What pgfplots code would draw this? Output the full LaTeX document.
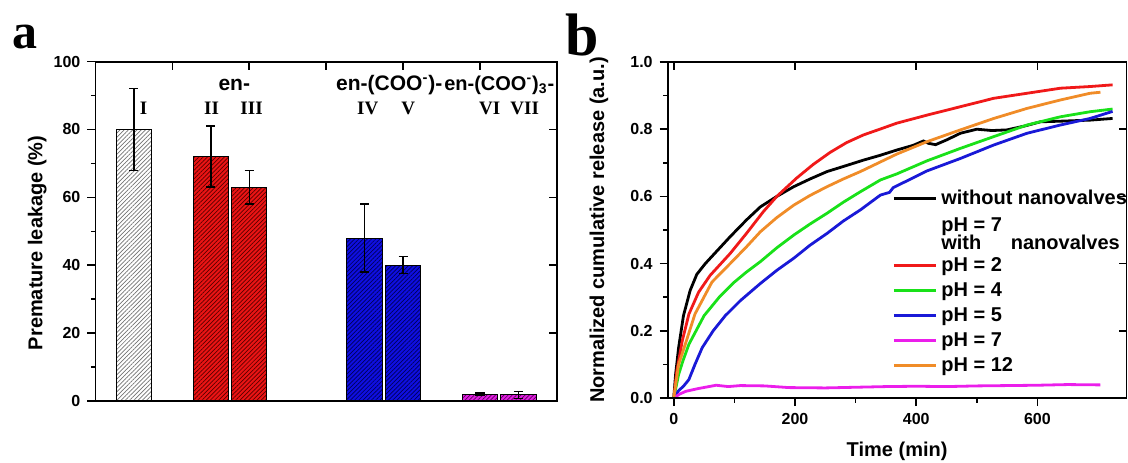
\documentclass[border=0pt]{standalone}
\usepackage{pgfplots}
\pgfplotsset{compat=1.18}
\usepackage{fontspec}
\setmainfont{Liberation Sans}
\newfontfamily\romanfont{Liberation Serif}
\usetikzlibrary{patterns.meta}

\definecolor{barred}{RGB}{235,20,20}
\definecolor{barblue}{RGB}{15,15,225}
\definecolor{barmag}{RGB}{225,30,225}
\definecolor{cred}{RGB}{240,25,25}
\definecolor{cgreen}{RGB}{25,225,25}
\definecolor{cblue}{RGB}{25,25,215}
\definecolor{cmag}{RGB}{235,30,235}
\definecolor{corange}{RGB}{240,140,40}

% struts that fix the legend row pitch
\newcommand\lgs{\rule[-3pt]{0pt}{12.5pt}}
\newcommand\lgd{\rule[-10.5pt]{0pt}{21pt}}

% curves of panel b
\pgfplotstableread{
t y
0 0
3 0.07
8 0.15
16 0.245
27 0.32
38 0.368
52 0.40
74 0.443
93 0.48
120 0.53
143 0.569
170 0.60
198 0.629
225 0.652
253 0.674
285 0.692
313 0.708
340 0.722
368 0.738
395 0.752
412 0.765
420 0.758
432 0.754
450 0.768
473 0.788
500 0.800
525 0.796
550 0.798
580 0.81
605 0.822
640 0.824
687 0.827
724 0.832
}\nonevalve
\pgfplotstableread{
t y
0 0
5 0.08
14 0.17
25 0.25
41 0.315
60 0.365
93 0.43
120 0.49
148 0.555
170 0.60
203 0.655
230 0.695
258 0.731
285 0.76
313 0.783
340 0.80
368 0.818
418 0.842
473 0.867
528 0.892
583 0.907
638 0.922
687 0.927
724 0.932
}\phtwo
\pgfplotstableread{
t y
0 0
8 0.07
15 0.11
25 0.16
50 0.245
75 0.3
100 0.345
120 0.375
143 0.406
170 0.447
198 0.485
225 0.518
253 0.55
280 0.583
308 0.614
341 0.649
368 0.667
418 0.706
473 0.743
528 0.778
583 0.8125
638 0.837
687 0.852
724 0.86
}\phfour
\pgfplotstableread{
t y
0 0
8 0.022
16 0.035
25 0.055
35 0.1
47 0.15
65 0.2
85 0.245
110 0.29
143 0.341
170 0.38
198 0.416
225 0.455
253 0.49
280 0.527
308 0.56
341 0.604
356 0.612
362 0.626
418 0.676
473 0.713
528 0.753
583 0.788
638 0.8125
687 0.832
724 0.853
}\phfive
\pgfplotstableread{
t y
0 0
10 0.012
20 0.02
40 0.028
70 0.038
90 0.034
110 0.037
150 0.036
190 0.031
250 0.03
300 0.032
350 0.034
400 0.035
450 0.034
500 0.036
550 0.037
600 0.038
650 0.04
704 0.039
}\phseven
\pgfplotstableread{
t y
0 0
8 0.1
19 0.16
35 0.25
63 0.345
93 0.40
120 0.45
143 0.495
170 0.537
198 0.574
225 0.603
253 0.629
280 0.652
308 0.674
368 0.726
418 0.763
473 0.798
528 0.832
583 0.862
638 0.887
687 0.907
704 0.91
}\phtwelve

\pgfplotsset{
  figbase/.style={scale only axis, anchor=south west,
    axis line style={line width=0.9pt},
    every tick/.style={black, line width=0.8pt},
    major tick length=4pt, minor tick length=2.3pt,
    /pgf/number format/assume math mode=true,
    tick label style={font=\bfseries\fontsize{8}{9}\selectfont},
    label style={font=\bfseries\fontsize{10}{12}\selectfont}},
  mirror/.style={figbase, tick align=inside, xtick pos=right, ytick pos=right,
    xticklabels={}, yticklabels={}, minor tick num=0},
  hatch/.style={postaction={pattern={Lines[angle=45,distance=1.5pt,line width=0.35pt]}, pattern color=#1}},
  bars/.style={ybar, bar width=0.92, bar shift=0pt, draw=black, line width=0.5pt,
    error bars/y dir=both, error bars/y explicit,
    error bars/error bar style={line width=0.7pt, black},
    error bars/error mark options={rotate=90, mark size=2.3pt, line width=0.7pt, black}},
}

\begin{document}
\begin{tikzpicture}
% ---------- panel a ----------
\begin{axis}[figbase, at={(47.7pt,30.5pt)}, width=230.8pt, height=169.7pt,
  xmin=-1, xmax=11, ymin=0, ymax=100,
  xtick=\empty, ytick={0,20,...,100}, minor y tick num=1,
  ytick pos=left, tick align=outside,
  ylabel={Premature leakage (\%)},
  ylabel style={at={(axis description cs:-0.126,0.466)}, anchor=center}]
\addplot[bars, fill=white, hatch=black!55] coordinates {(0,80) +- (0,12)};
\addplot[bars, fill=barred, hatch=red!35!black] coordinates {(2,72) +- (0,9) (3,63) +- (0,5)};
\addplot[bars, fill=barblue, hatch=blue!35!black] coordinates {(6,48) +- (0,10) (7,40) +- (0,2.5)};
\addplot[bars, fill=barmag, hatch=magenta!35!black] coordinates {(9,2) +- (0,0.4) (10,1.8) +- (0,1)};
\begin{scope}[font=\bfseries\fontsize{10.5}{12}\selectfont]
\node at (axis cs:2.61,93.1) {en-};
\node at (axis cs:6.64,93.1) {en-(COO\textsuperscript{-})-};
\node[font=\bfseries\fontsize{10}{12}\selectfont] at (axis cs:9.5,93.1) {en-(COO\textsuperscript{-})\textsubscript{3}-};
\end{scope}
\begin{scope}[font=\romanfont\bfseries\fontsize{9.5}{11}\selectfont]
\node at (axis cs:0.25,86.3) {I};
\node at (axis cs:2.02,86.3) {II};
\node at (axis cs:3.06,86.3) {III};
\node at (axis cs:6.08,86.3) {IV};
\node at (axis cs:7.13,86.3) {V};
\node at (axis cs:9.25,86.3) {VI};
\node at (axis cs:10.16,86.3) {VII};
\end{scope}
\end{axis}
\begin{axis}[mirror, at={(47.7pt,30.5pt)}, width=230.8pt, height=169.7pt,
  xmin=-1, xmax=11, ymin=0, ymax=100,
  xtick={1,3,5,7,9}, ytick={0,20,...,100}]
\end{axis}

% ---------- panel b ----------
\begin{axis}[figbase, at={(333.85pt,32pt)}, width=229.4pt, height=168pt,
  xmin=-10, xmax=747, ymin=0, ymax=1,
  xtick={0,200,400,600}, minor x tick num=1,
  ytick={0,0.2,0.4,0.6,0.8,1.0}, minor y tick num=1,
  xtick pos=left, ytick pos=left, tick align=outside,
  yticklabel style={/pgf/number format/.cd, fixed, fixed zerofill, precision=1},
  xlabel={Time (min)}, ylabel={Normalized cumulative release (a.u.)},
  xlabel style={at={(axis description cs:0.5,-0.16)}, anchor=center},
  ylabel style={at={(axis description cs:-0.150,0.5)}, anchor=center},
  legend style={at={(0.49,0.631)}, anchor=north west, draw=none, fill=none,
    inner sep=0pt, outer sep=0pt, column sep=2pt, row sep=0pt,
    font=\bfseries\fontsize{10}{12}\selectfont, nodes={inner sep=0pt, text depth=}},
  legend cell align=left,
  legend image code/.code={\draw[#1, line width=1.4pt] (0pt,0pt) -- (21pt,0pt);},
  every axis plot/.append style={line width=1.4pt}]
\addplot[black, line width=1.4pt] table[x=t, y=y] {\nonevalve};
\addlegendentry{\lgs without nanovalves}
\addlegendimage{empty legend}
\addlegendentry{\lgd\rlap{\raisebox{-9pt}{with\hspace{12pt} nanovalves}}pH = 7}
\addplot[cred, line width=1.4pt] table[x=t, y=y] {\phtwo};
\addlegendentry{\lgs pH = 2}
\addplot[cgreen, line width=1.4pt] table[x=t, y=y] {\phfour};
\addlegendentry{\lgs pH = 4}
\addplot[cblue, line width=1.4pt] table[x=t, y=y] {\phfive};
\addlegendentry{\lgs pH = 5}
\addplot[cmag, line width=1.4pt] table[x=t, y=y] {\phseven};
\addlegendentry{\lgs pH = 7}
\addplot[corange, line width=1.4pt] table[x=t, y=y] {\phtwelve};
\addlegendentry{\lgs pH = 12}
\end{axis}
\begin{axis}[mirror, at={(333.85pt,32pt)}, width=229.4pt, height=168pt,
  xmin=-10, xmax=747, ymin=0, ymax=1,
  xtick={0,200,400,600}, ytick={0,0.2,0.4,0.6,0.8,1.0}]
\end{axis}

% panel letters
\node[font=\romanfont\bfseries\fontsize{25}{28}\selectfont, anchor=base] at (12.5pt,207pt) {a};
\node[font=\romanfont\bfseries\fontsize{30}{34}\selectfont, anchor=base] at (291pt,203.5pt) {b};

\pgfresetboundingbox
\path (0pt,0pt) rectangle (564pt,231pt);
\end{tikzpicture}
\end{document}
